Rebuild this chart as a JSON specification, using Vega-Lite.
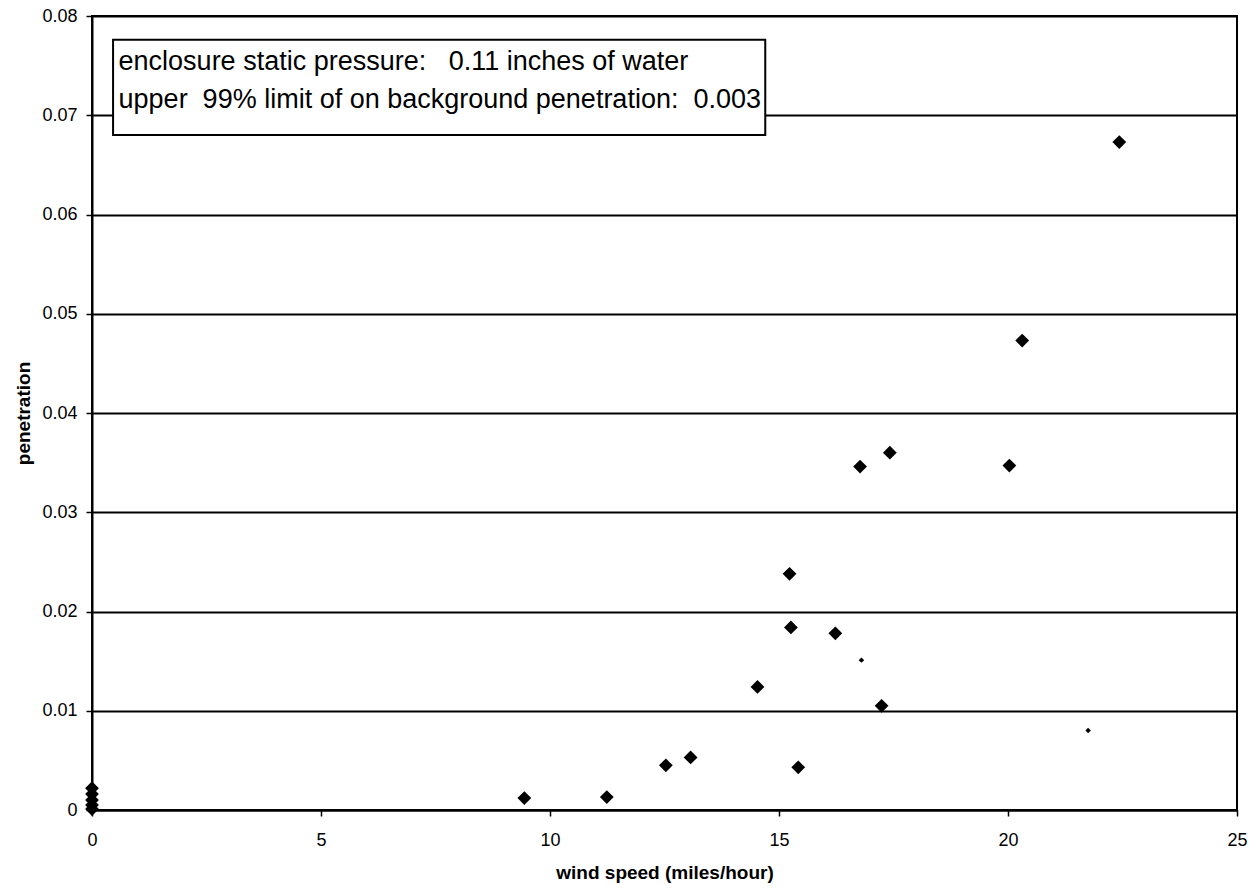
{
  "$schema": "https://vega.github.io/schema/vega-lite/v6.json",
  "width": 1145,
  "height": 794,
  "autosize": {"type": "none"},
  "padding": {"left": 92, "top": 16, "right": 23, "bottom": 80},
  "background": "white",
  "config": {
    "font": "Liberation Sans",
    "view": {"stroke": "black", "strokeWidth": 2},
    "axis": {
      "labelFont": "Liberation Sans",
      "labelFontSize": 18,
      "labelColor": "black",
      "titleFont": "Liberation Sans",
      "titleFontSize": 19,
      "titleFontWeight": "bold",
      "titleColor": "black",
      "tickColor": "black",
      "tickWidth": 1.5,
      "tickSize": 6,
      "domainColor": "black",
      "domainWidth": 2
    }
  },
  "datasets": {
    "points": [
      {"wind": 0, "pen": 0.0022, "print": "clear"},
      {"wind": 0, "pen": 0.0016, "print": "clear"},
      {"wind": 0, "pen": 0.001, "print": "clear"},
      {"wind": 0, "pen": 0.0005, "print": "clear"},
      {"wind": 0, "pen": 0.0001, "print": "clear"},
      {"wind": 9.44, "pen": 0.0012, "print": "clear"},
      {"wind": 11.24, "pen": 0.0013, "print": "clear"},
      {"wind": 12.53, "pen": 0.0045, "print": "clear"},
      {"wind": 13.07, "pen": 0.0053, "print": "clear"},
      {"wind": 14.53, "pen": 0.0124, "print": "clear"},
      {"wind": 15.23, "pen": 0.0238, "print": "clear"},
      {"wind": 15.26, "pen": 0.0184, "print": "clear"},
      {"wind": 15.42, "pen": 0.0043, "print": "clear"},
      {"wind": 16.23, "pen": 0.0178, "print": "clear"},
      {"wind": 16.8, "pen": 0.0151, "print": "faint"},
      {"wind": 16.77, "pen": 0.0346, "print": "clear"},
      {"wind": 17.24, "pen": 0.0105, "print": "clear"},
      {"wind": 17.42, "pen": 0.036, "print": "clear"},
      {"wind": 20.03, "pen": 0.0347, "print": "clear"},
      {"wind": 20.31, "pen": 0.0473, "print": "clear"},
      {"wind": 21.75, "pen": 0.0080, "print": "faint"},
      {"wind": 22.43, "pen": 0.0673, "print": "clear"}
    ],
    "box": [
      {"wind": 0.46, "wind2": 14.7, "pen": 0.0776, "pen2": 0.068}
    ],
    "notes": [
      {"wind": 0.58, "pen": 0.0754, "text": "enclosure static pressure:\u00a0\u00a0 0.11 inches of water"},
      {"wind": 0.58, "pen": 0.0715, "text": "upper\u00a0 99% limit of on background penetration:\u00a0 0.003"}
    ]
  },
  "layer": [
    {
      "data": {"name": "points"},
      "mark": {"type": "point", "shape": "diamond", "filled": true, "color": "black", "opacity": 1},
      "encoding": {
        "x": {
          "field": "wind", "type": "quantitative", "title": "wind speed (miles/hour)",
          "scale": {"domain": [0, 25], "nice": false, "zero": true},
          "axis": {"values": [0, 5, 10, 15, 20, 25], "grid": false, "labelPadding": 15, "titlePadding": 14, "labelFlush": false}
        },
        "y": {
          "field": "pen", "type": "quantitative", "title": "penetration",
          "scale": {"domain": [0, 0.08], "nice": false},
          "axis": {
            "values": [0, 0.01, 0.02, 0.03, 0.04, 0.05, 0.06, 0.07, 0.08],
            "grid": true, "gridColor": "black", "gridWidth": 2, "gridOpacity": 1,
            "labelExpr": "datum.value === 0 ? '0' : format(datum.value, '.2f')",
            "labelPadding": 9, "titlePadding": 8, "labelFlush": false
          }
        },
        "size": {"field": "print", "type": "nominal", "scale": {"domain": ["clear", "faint"], "range": [190, 30]}, "legend": null}
      }
    },
    {
      "data": {"name": "box"},
      "mark": {"type": "rect", "fill": "white", "stroke": "black", "strokeWidth": 2},
      "encoding": {
        "x": {"field": "wind", "type": "quantitative", "title": "wind speed (miles/hour)"},
        "x2": {"field": "wind2"},
        "y": {"field": "pen", "type": "quantitative", "title": "penetration"},
        "y2": {"field": "pen2"}
      }
    },
    {
      "data": {"name": "notes"},
      "mark": {"type": "text", "align": "left", "baseline": "middle", "fontSize": 27, "font": "Liberation Sans", "color": "black"},
      "encoding": {
        "x": {"field": "wind", "type": "quantitative", "title": "wind speed (miles/hour)"},
        "y": {"field": "pen", "type": "quantitative", "title": "penetration"},
        "text": {"field": "text"}
      }
    }
  ]
}
